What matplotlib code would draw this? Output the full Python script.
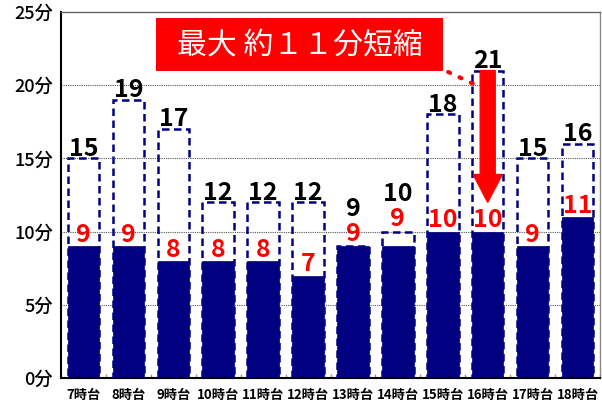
import matplotlib
matplotlib.use("Agg")
import matplotlib.pyplot as plt
from matplotlib.patches import Rectangle, FancyArrow
import numpy as np

plt.rcParams['font.family'] = ['Noto Sans CJK JP', 'DejaVu Sans']

categories = ["7時台", "8時台", "9時台", "10時台", "11時台", "12時台",
              "13時台", "14時台", "15時台", "16時台", "17時台", "18時台"]
before = [15, 19, 17, 12, 12, 12, 9, 10, 18, 21, 15, 16]   # dashed outline bars
after = [9, 9, 8, 8, 8, 7, 9, 9, 10, 10, 9, 11]           # filled navy bars
yticks = [0, 5, 10, 15, 20, 25]
ytick_labels = ["0分", "5分", "10分", "15分", "20分", "25分"]
title_text = "最大 約１１分短縮"
arrow_from = 21
arrow_to = 12

navy = "#000080"
W, H = 602, 405
fig = plt.figure(figsize=(W / 100, H / 100), dpi=100)
ax = fig.add_axes([61 / W, 27 / H, 539 / W, 366 / H])

x = np.arange(len(categories))
bw = 0.70
ax.bar(x, after, width=bw, color=navy, edgecolor=navy, linewidth=0.5, zorder=2)
ax.bar(x, before, width=bw, facecolor="none", edgecolor=navy, linewidth=1.8,
       linestyle=(0, (3.0, 1.8)), zorder=3)

ax.set_xlim(-0.5, len(categories) - 0.5)
ax.set_ylim(0, 25)
ax.set_yticks(yticks)
ax.set_yticklabels(ytick_labels, fontsize=13, fontweight="medium")
ax.set_xticks(x)
ax.set_xticklabels(categories, fontsize=9.5, fontweight="bold")
ax.tick_params(axis="y", length=0, pad=6)
ax.tick_params(axis="x", length=0, pad=7)
ax.set_xticks(np.arange(len(categories) + 1) - 0.5, minor=True)
ax.tick_params(axis="x", which="minor", direction="in", length=3, color="#999999", width=1)

for yv in yticks[1:-1]:
    ax.axhline(yv, color="#555555", linestyle=(0, (1, 1)), linewidth=0.8, zorder=1)

ax.spines["left"].set_linewidth(1.5)
ax.spines["bottom"].set_linewidth(1.5)
ax.spines["top"].set_color("#666666")
ax.spines["top"].set_linestyle((0, (1, 1)))
ax.spines["top"].set_linewidth(1.0)
ax.spines["right"].set_color("#888888")
ax.spines["right"].set_linewidth(1.0)

# value labels
for i, (b, a) in enumerate(zip(before, after)):
    stacked = b - a < 1.5
    if stacked:
        red_base = b
        red_off = 4
        black_off = red_off + 18
    else:
        red_base = a
        red_off = 3
        black_off = 2
    ax.annotate(str(a), (i, red_base), xytext=(0, red_off), textcoords="offset points",
                ha="center", va="baseline", color="red", fontsize=18,
                fontweight="semibold", zorder=5)
    ax.annotate(str(b), (i, b), xytext=(0, black_off), textcoords="offset points",
                ha="center", va="baseline", color="black", fontsize=18,
                fontweight="semibold", zorder=5)

# title box
fig.patches.append(Rectangle((156 / W, 1 - 71 / H), 287 / W, 53 / H,
                             transform=fig.transFigure, facecolor="red",
                             edgecolor="none", zorder=10))
fig.text(300 / W, 1 - 45 / H, title_text, color="white", fontsize=21.5,
         ha="center", va="center", zorder=11)

# dotted pointer line
ax.plot([8.12, 8.78], [20.9, 19.95], color="red", linestyle=(0, (0.5, 2.5)),
        linewidth=3, dash_capstyle="round", clip_on=False, zorder=6)

# red arrow
i16 = categories.index("16時台")
ax.add_patch(FancyArrow(i16, arrow_from, 0, arrow_to - arrow_from, width=0.334,
                        head_width=0.646, head_length=1.9, length_includes_head=True,
                        color="red", zorder=4))

fig.savefig("out.png", dpi=100)
